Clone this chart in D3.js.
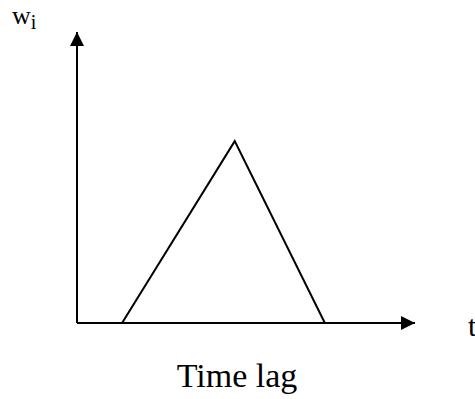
<!DOCTYPE html>
<html>
  <head>
    <meta charset="utf-8">
    <title>Time lag weights</title>
    <script src="https://d3js.org/d3.v7.min.js"></script>
    <style>
      body { margin: 0; background: #fff; }
      text { font-family: "Liberation Serif", "Times New Roman", serif; fill: #000; }
    </style>
  </head>
  <body>
    <script>
      // triangular weighting over time lag
      const lags = [2, 7, 11];
      const weights = [0, 1, 0];

      const width = 475;
      const height = 399;

      const svg = d3.select("body")
        .append("svg")
          .attr("width", width)
          .attr("height", height);

      const xScale = d3.scaleLinear()
        .domain([0, 15])
        .range([77, 415]);

      const yScale = d3.scaleLinear()
        .domain([0, 1.6])
        .range([323, 32]);

      // arrow heads
      const defs = svg.append("defs");
      defs.append("marker")
        .attr("id", "arrow")
        .attr("viewBox", "0 0 14 14")
        .attr("refX", 14)
        .attr("refY", 7)
        .attr("markerWidth", 14)
        .attr("markerHeight", 14)
        .attr("markerUnits", "userSpaceOnUse")
        .attr("orient", "auto")
        .append("path")
          .attr("d", "M0,0 L14,7 L0,14 Z")
          .attr("fill", "#000");

      // axes
      svg.append("line")
        .attr("x1", xScale(0)).attr("y1", yScale(0))
        .attr("x2", xScale(15)).attr("y2", yScale(0))
        .attr("stroke", "#000")
        .attr("stroke-width", 2)
        .attr("marker-end", "url(#arrow)");

      svg.append("line")
        .attr("x1", xScale(0)).attr("y1", yScale(0))
        .attr("x2", xScale(0)).attr("y2", yScale(1.6))
        .attr("stroke", "#000")
        .attr("stroke-width", 2)
        .attr("marker-end", "url(#arrow)");

      // weight triangle
      const line = d3.line()
        .x(function(d, i) { return xScale(lags[i]); })
        .y(function(d) { return yScale(d); });

      svg.append("path")
        .attr("d", line(weights))
        .attr("fill", "none")
        .attr("stroke", "#000")
        .attr("stroke-width", 2)
        .attr("stroke-linejoin", "miter");

      // labels
      const wLabel = svg.append("text")
        .attr("x", 12)
        .attr("y", 24)
        .style("font-size", "26px");
      wLabel.append("tspan").text("w");
      wLabel.append("tspan")
        .attr("dy", 5)
        .style("font-size", "20px")
        .text("i");

      svg.append("text")
        .attr("x", 468)
        .attr("y", 336)
        .style("font-size", "30px")
        .text("t");

      svg.append("text")
        .attr("x", 237)
        .attr("y", 387)
        .attr("text-anchor", "middle")
        .style("font-size", "34px")
        .text("Time lag");
    </script>
  </body>
</html>
